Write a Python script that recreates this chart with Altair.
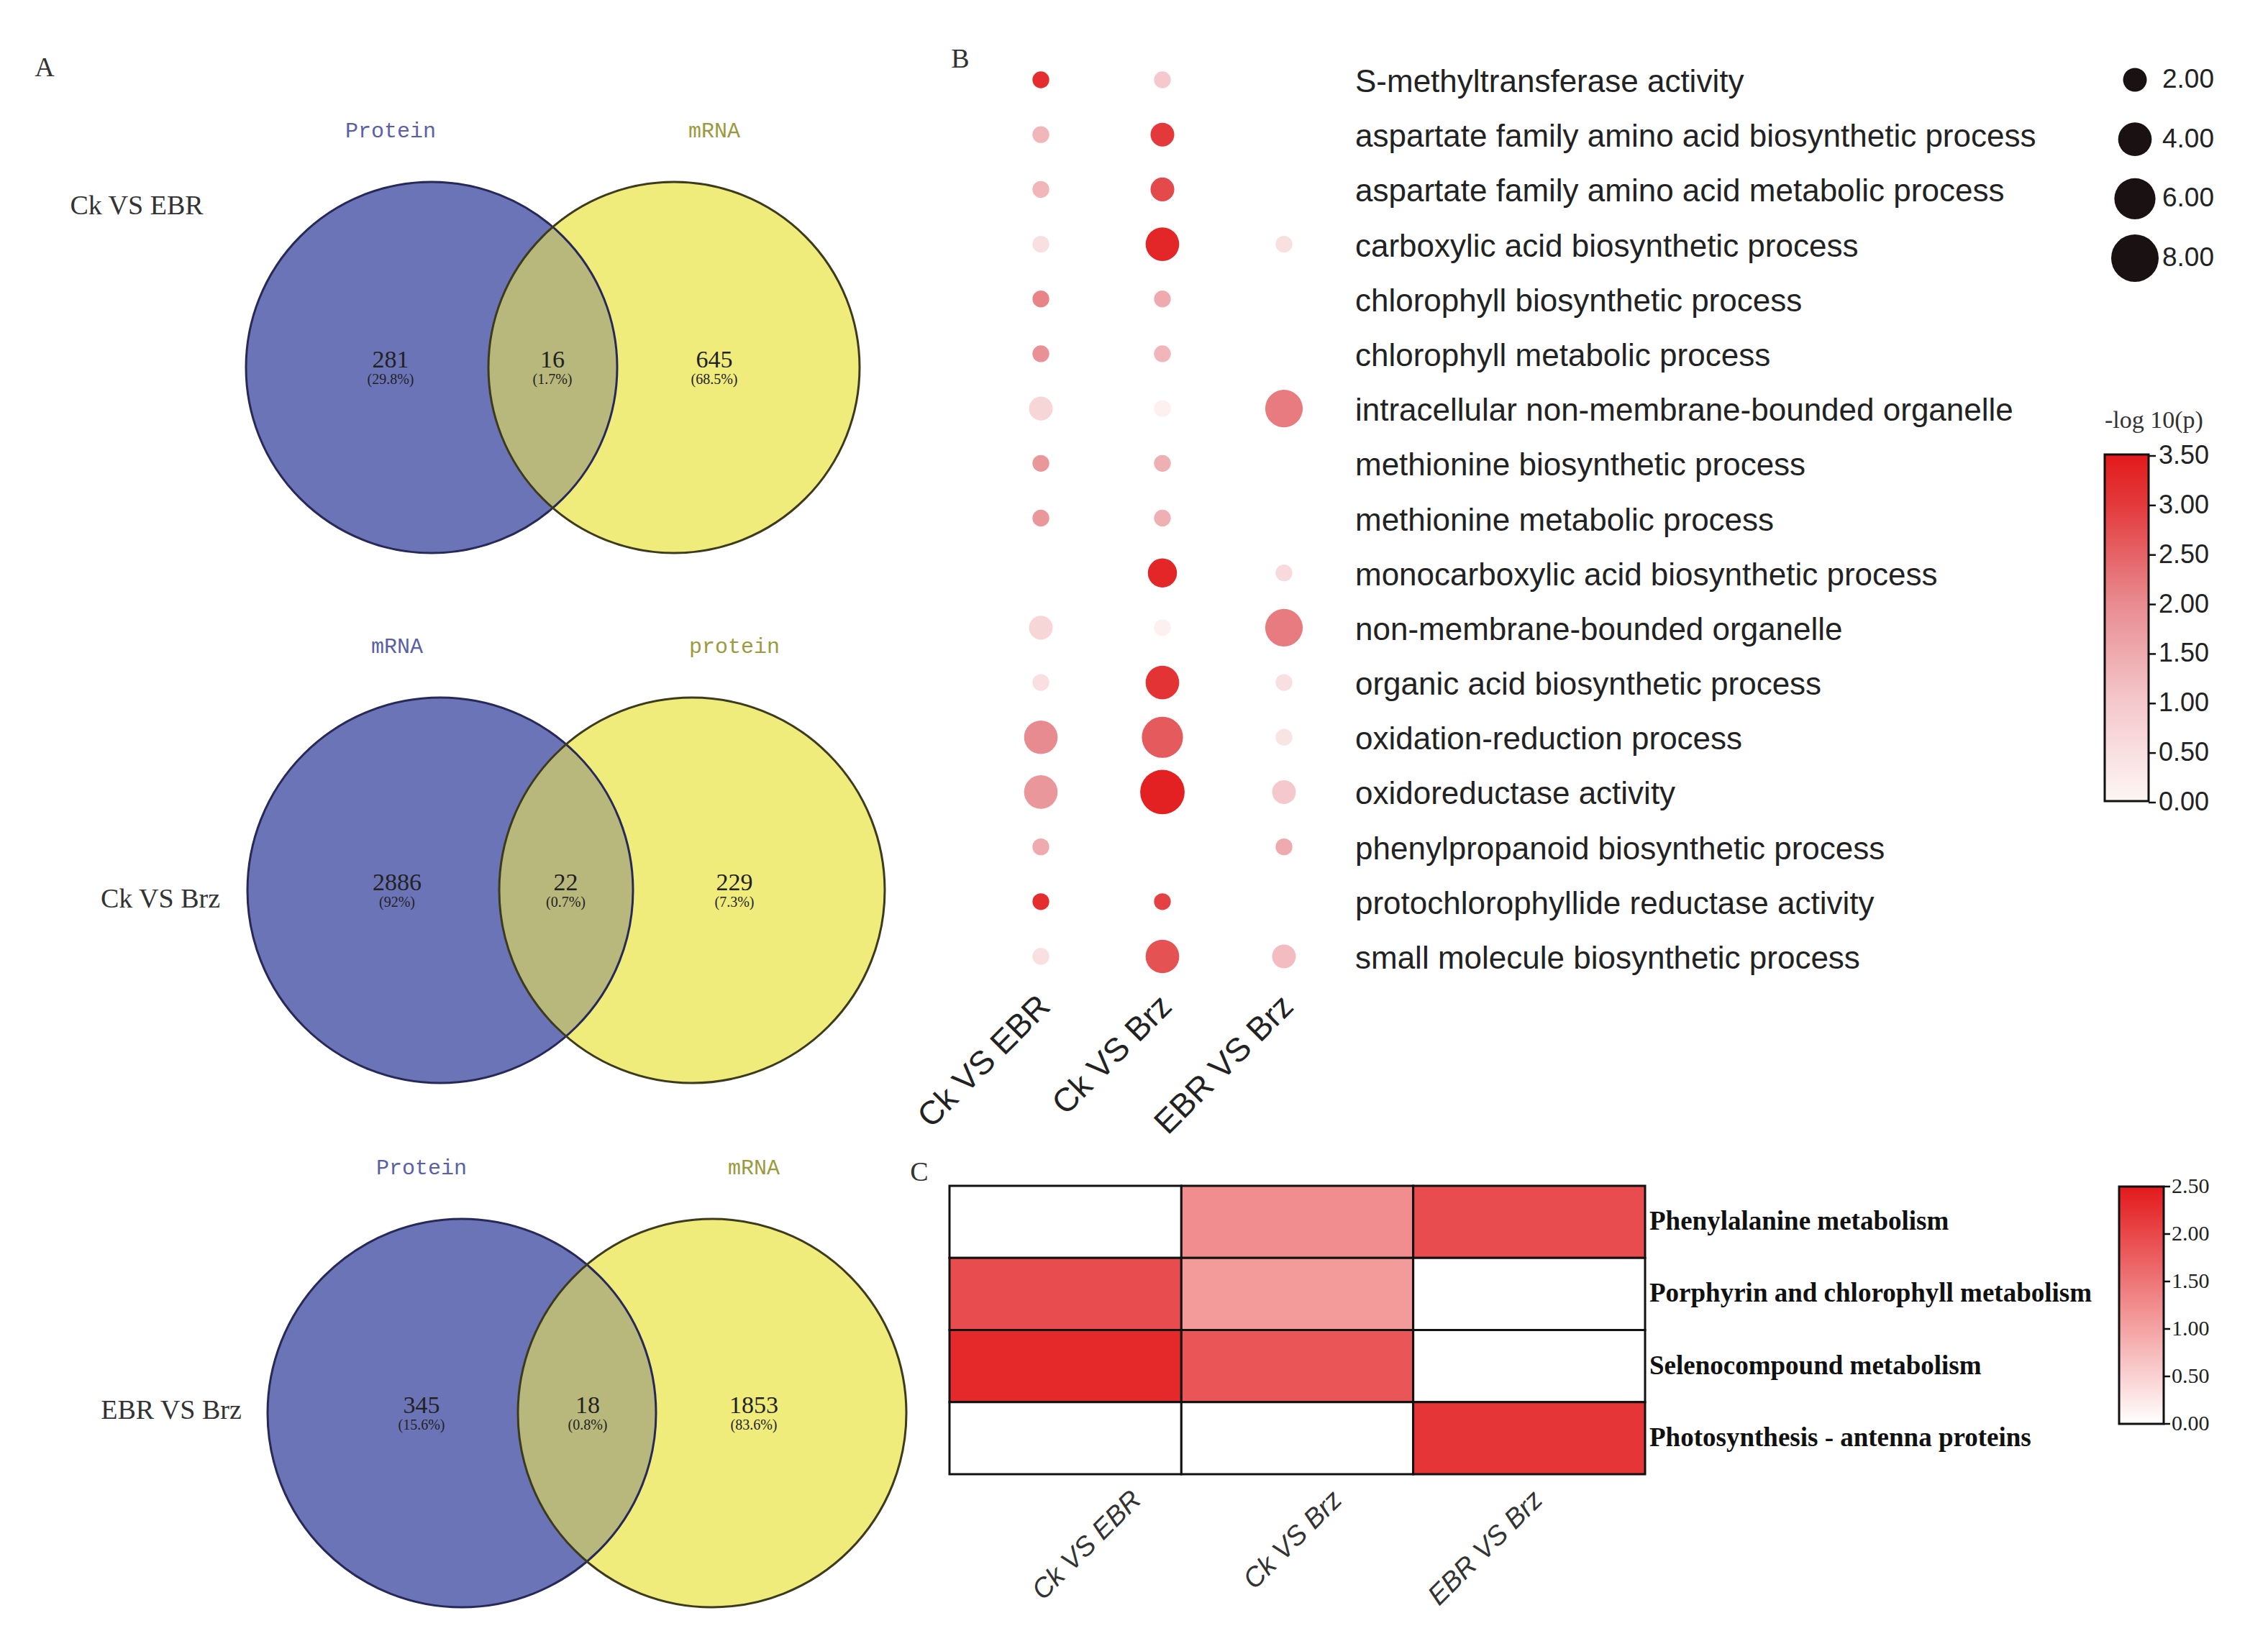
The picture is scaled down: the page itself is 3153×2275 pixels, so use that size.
import altair as alt
import pandas as pd

# ---------------- Panel A : Venn data ----------------
venn_comparisons = ["Ck VS EBR", "Ck VS Brz", "EBR VS Brz"]
venn_left_set = ["Protein", "mRNA", "Protein"]
venn_right_set = ["mRNA", "protein", "mRNA"]
venn_left_only = [281, 2886, 345]
venn_overlap = [16, 22, 18]
venn_right_only = [645, 229, 1853]
venn_left_pct = ["(29.8%)", "(92%)", "(15.6%)"]
venn_overlap_pct = ["(1.7%)", "(0.7%)", "(0.8%)"]
venn_right_pct = ["(68.5%)", "(7.3%)", "(83.6%)"]

# ---------------- Panel B : GO bubble data ----------------
go_terms = [
    "S-methyltransferase activity",
    "aspartate family amino acid biosynthetic process",
    "aspartate family amino acid metabolic process",
    "carboxylic acid biosynthetic process",
    "chlorophyll biosynthetic process",
    "chlorophyll metabolic process",
    "intracellular non-membrane-bounded organelle",
    "methionine biosynthetic process",
    "methionine metabolic process",
    "monocarboxylic acid biosynthetic process",
    "non-membrane-bounded organelle",
    "organic acid biosynthetic process",
    "oxidation-reduction process",
    "oxidoreductase activity",
    "phenylpropanoid biosynthetic process",
    "protochlorophyllide reductase activity",
    "small molecule biosynthetic process",
]
go_comparisons = ["Ck VS EBR", "Ck VS Brz", "EBR VS Brz"]
logp_ck_ebr = [3.2, 1.3, 1.3, 0.5, 2.1, 1.9, 0.7, 1.8, 1.8, None, 0.7, 0.5, 2.0, 1.8, 1.5, 3.2, 0.5]
count_ck_ebr = [1, 1, 1, 1, 1, 1, 2, 1, 1, None, 2, 1, 4, 4, 1, 1, 1]
logp_ck_brz = [1.0, 3.0, 2.8, 3.3, 1.5, 1.3, 0.1, 1.4, 1.4, 3.3, 0.1, 3.1, 2.6, 3.4, None, 2.9, 2.7]
count_ck_brz = [1, 2, 2, 4, 1, 1, 1, 1, 1, 3, 1, 4, 6, 7, None, 1, 4]
logp_ebr_brz = [None, None, None, 0.5, None, None, 2.2, None, None, 0.6, 2.2, 0.5, 0.4, 1.0, 1.5, None, 1.2]
count_ebr_brz = [None, None, None, 1, None, None, 5, None, None, 1, 5, 1, 1, 2, 1, None, 2]
size_legend_values = [2, 4, 6, 8]
logp_legend_values = [0, 0.5, 1, 1.5, 2, 2.5, 3, 3.5]

# ---------------- Panel C : KEGG heatmap data ----------------
kegg_pathways = [
    "Phenylalanine metabolism",
    "Porphyrin and chlorophyll metabolism",
    "Selenocompound metabolism",
    "Photosynthesis - antenna proteins",
]
kegg_ck_ebr = [0.0, 1.95, 2.35, 0.0]
kegg_ck_brz = [1.25, 1.1, 1.85, 0.0]
kegg_ebr_brz = [1.95, 0.0, 0.0, 2.2]
kegg_legend_values = [0, 0.5, 1, 1.5, 2, 2.5]

# ---------------- layout (chart pixels) ----------------
W, H = 3130, 2255
VENN_Y = [503, 1957]
venn_circle_x = [(592, 929), (604, 954), (634, 982)]
venn_diam = [516, 536, 540]
venn_text_x = [(535, 985), (544, 1013), (578, 1040)]
venn_setlabel_dy = [-329, -339, -341]
venn_rowlabel = [(182, -224), (215, 13), (230, -3)]

B_X = [1439, 1777]
B_Y = [103, 1322]
B_LEG_X, B_LEG_Y, B_LEG_LEN, B_LEG_W = 2918, 560, 482, 61
B_BAR_TOP = B_LEG_Y + 66

C_X = [1312, 2279]
C_Y = [1641, 2042]
C_LEG_X, C_LEG_Y, C_LEG_LEN, C_LEG_W = 2938, 1642, 330, 62
C_XLABEL_X = [1573, 2131]
C_XLABEL_Y = 2072


def pt(domain, rng, padding=0.0):
    return alt.Scale(type="point", domain=domain, range=rng, padding=padding)


layers = []

# ======== Panel A ========
circ_df = pd.DataFrame({
    "comparison": venn_comparisons * 2,
    "side": ["left"] * 3 + ["right"] * 3,
    "set": venn_left_set + venn_right_set,
})
region_df = pd.DataFrame({
    "comparison": venn_comparisons * 3,
    "region": ["left"] * 3 + ["both"] * 3 + ["right"] * 3,
    "count": venn_left_only + venn_overlap + venn_right_only,
    "pct": venn_left_pct + venn_overlap_pct + venn_right_pct,
})
comp_df = pd.DataFrame({"comparison": venn_comparisons})
VY = pt(venn_comparisons, VENN_Y)

# colours: blue-only, yellow-only, overlap are reproduced by an under-layer,
# an opaque yellow circle and a half-transparent grey-blue circle
UNDER_BLUE, YELLOW, OVER_BLUE = "#5864f4", "#f0ec7c", "#80847c"

for i, comp in enumerate(venn_comparisons):
    cx = pt(["left", "right"], list(venn_circle_x[i]))
    tx = pt(["left", "both", "right"], list(venn_text_x[i]))
    size = venn_diam[i] ** 2
    base_c = alt.Chart(circ_df).transform_filter(alt.datum.comparison == comp)

    def circ(side, fill, op):
        return base_c.transform_filter(alt.datum.side == side).mark_circle(
            size=size, color=fill, opacity=op
        ).encode(x=alt.X("side:N", scale=cx, axis=None),
                 y=alt.Y("comparison:N", scale=VY, axis=None))

    def outline(side, stroke):
        return base_c.transform_filter(alt.datum.side == side).mark_point(
            shape="circle", filled=False, size=size, color=stroke, strokeWidth=3, opacity=1
        ).encode(x=alt.X("side:N", scale=cx, axis=None),
                 y=alt.Y("comparison:N", scale=VY, axis=None))

    layers += [circ("left", UNDER_BLUE, 1), circ("right", YELLOW, 1),
               circ("left", OVER_BLUE, 0.5),
               outline("left", "#272a58"), outline("right", "#3c3b1e")]

    base_r = alt.Chart(region_df).transform_filter(alt.datum.comparison == comp)
    layers.append(base_r.mark_text(font="Liberation Serif", fontSize=34, dy=-10, color="#222").encode(
        x=alt.X("region:N", scale=tx, axis=None),
        y=alt.Y("comparison:N", scale=VY, axis=None),
        text=alt.Text("count:Q", format="d")))
    layers.append(base_r.mark_text(font="Liberation Serif", fontSize=20, dy=17, color="#222").encode(
        x=alt.X("region:N", scale=tx, axis=None),
        y=alt.Y("comparison:N", scale=VY, axis=None),
        text="pct:N"))
    layers.append(base_c.mark_text(font="Liberation Mono", fontSize=30, dy=venn_setlabel_dy[i]).encode(
        x=alt.X("side:N", scale=tx, axis=None),
        y=alt.Y("comparison:N", scale=VY, axis=None),
        text="set:N",
        color=alt.Color("side:N", scale=alt.Scale(domain=["left", "right"],
                                                  range=["#5a5fa6", "#9c9a3e"]), legend=None)))
    lx, ldy = venn_rowlabel[i]
    layers.append(alt.Chart(comp_df).transform_filter(alt.datum.comparison == comp).mark_text(
        font="Liberation Serif", fontSize=38, dy=ldy, color="#333").encode(
        x=alt.value(lx),
        y=alt.Y("comparison:N", scale=VY, axis=None),
        text="comparison:N"))

# ======== Panel B ========
rows = []
for comp, lps, cnts in zip(go_comparisons, [logp_ck_ebr, logp_ck_brz, logp_ebr_brz],
                           [count_ck_ebr, count_ck_brz, count_ebr_brz]):
    for term, lp, c in zip(go_terms, lps, cnts):
        if lp is not None:
            rows.append({"comparison": comp, "term": term, "logp": lp, "count": c})
b_df = pd.DataFrame(rows)

BX = pt(go_comparisons, B_X)
BY = pt(go_terms, B_Y)
size_scale = alt.Scale(domain=[0, 8], range=[0, 4360])
b_color = alt.Scale(domain=[0, 1, 2, 3, 3.5],
                    range=["#fdf6f4", "#f4c8cc", "#e88b90", "#e3393b", "#e31a1c"],
                    interpolate="rgb")

layers.append(
    alt.Chart(b_df).mark_circle(opacity=1).encode(
        x=alt.X("comparison:N", scale=BX, axis=None),
        y=alt.Y("term:N", scale=BY, axis=None),
        size=alt.Size("count:Q", scale=size_scale, legend=None),
        color=alt.Color("logp:Q", scale=b_color, legend=alt.Legend(
            orient="none", legendX=B_LEG_X, legendY=B_LEG_Y, direction="vertical",
            title="-log 10(p)", titleFont="Liberation Serif", titleFontSize=34,
            titleFontWeight="normal", titleColor="#333", titlePadding=30,
            gradientLength=B_LEG_LEN, gradientThickness=B_LEG_W,
            gradientStrokeColor="#111", gradientStrokeWidth=3,
            values=logp_legend_values, labelOpacity=0,
        )),
    )
)
# colour-bar labels and ticks for panel B
b_lab_df = pd.DataFrame({"v": logp_legend_values})
b_lab_y = alt.Scale(domain=[0, 3.5], range=[B_BAR_TOP + B_LEG_LEN, B_BAR_TOP])
layers.append(alt.Chart(b_lab_df).mark_rule(color="#111", strokeWidth=2.5).encode(
    x=alt.value(B_LEG_X + B_LEG_W), x2=alt.value(B_LEG_X + B_LEG_W + 10),
    y=alt.Y("v:Q", scale=b_lab_y, axis=None)))
layers.append(alt.Chart(b_lab_df).mark_text(align="left", font="Liberation Sans", fontSize=36,
                                            color="#222").encode(
    x=alt.value(B_LEG_X + B_LEG_W + 14),
    y=alt.Y("v:Q", scale=b_lab_y, axis=None),
    text=alt.Text("v:Q", format=".2f")))

layers.append(
    alt.Chart(pd.DataFrame({"term": go_terms})).mark_text(
        align="left", font="Liberation Sans", fontSize=44, dy=4, color="#222"
    ).encode(
        x=alt.value(1876),
        y=alt.Y("term:N", scale=BY, axis=None),
        text="term:N",
    )
)
layers.append(
    alt.Chart(pd.DataFrame({"comparison": go_comparisons})).mark_text(
        align="right", baseline="middle", angle=315, font="Liberation Sans", fontSize=46,
        dx=8, color="#222"
    ).encode(
        x=alt.X("comparison:N", scale=BX, axis=None),
        y=alt.value(1390),
        text="comparison:N",
    )
)
size_leg_df = pd.DataFrame({"v": size_legend_values,
                            "lab": [f"{v:.2f}" for v in size_legend_values]})
SLY = pt([f"{v:.2f}" for v in size_legend_values], [103, 351])
layers.append(
    alt.Chart(size_leg_df).mark_circle(opacity=1, color="#1a1212").encode(
        x=alt.value(2960),
        y=alt.Y("lab:N", scale=SLY, axis=None),
        size=alt.Size("v:Q", scale=size_scale, legend=None),
    )
)
layers.append(
    alt.Chart(size_leg_df).mark_text(align="left", font="Liberation Sans", fontSize=37, color="#222").encode(
        x=alt.value(2998),
        y=alt.Y("lab:N", scale=SLY, axis=None),
        text="lab:N",
    )
)

# ======== Panel C ========
c_rows = []
for comp, vals in zip(go_comparisons, [kegg_ck_ebr, kegg_ck_brz, kegg_ebr_brz]):
    for pw, v in zip(kegg_pathways, vals):
        c_rows.append({"comparison": comp, "pathway": pw, "value": v})
c_df = pd.DataFrame(c_rows)

c_color = alt.Scale(domain=[0, 2.5], range=["#ffffff", "#e31a1c"], interpolate="rgb")

layers.append(
    alt.Chart(c_df).mark_rect(stroke="#111", strokeWidth=3).encode(
        x=alt.X("comparison:N", scale=alt.Scale(type="band", domain=go_comparisons, range=C_X,
                                                paddingInner=0, paddingOuter=0), axis=None),
        y=alt.Y("pathway:N", scale=alt.Scale(type="band", domain=kegg_pathways, range=C_Y,
                                             paddingInner=0, paddingOuter=0), axis=None),
        color=alt.Color("value:Q", scale=c_color, legend=alt.Legend(
            orient="none", legendX=C_LEG_X, legendY=C_LEG_Y, direction="vertical", title=None,
            gradientLength=C_LEG_LEN, gradientThickness=C_LEG_W,
            gradientStrokeColor="#111", gradientStrokeWidth=3,
            values=kegg_legend_values, labelOpacity=0,
        )),
    )
)
c_lab_df = pd.DataFrame({"v": kegg_legend_values})
c_lab_y = alt.Scale(domain=[0, 2.5], range=[C_LEG_Y + C_LEG_LEN, C_LEG_Y])
layers.append(alt.Chart(c_lab_df).mark_rule(color="#111", strokeWidth=2.5).encode(
    x=alt.value(C_LEG_X + C_LEG_W), x2=alt.value(C_LEG_X + C_LEG_W + 9),
    y=alt.Y("v:Q", scale=c_lab_y, axis=None)))
layers.append(alt.Chart(c_lab_df).mark_text(align="left", font="Liberation Serif", fontSize=30,
                                            color="#222").encode(
    x=alt.value(C_LEG_X + C_LEG_W + 11),
    y=alt.Y("v:Q", scale=c_lab_y, axis=None),
    text=alt.Text("v:Q", format=".2f")))

layers.append(
    alt.Chart(pd.DataFrame({"pathway": kegg_pathways})).mark_text(
        align="left", font="Liberation Serif", fontWeight="bold", fontSize=37, color="#111"
    ).encode(
        x=alt.value(2285),
        y=alt.Y("pathway:N", scale=pt(kegg_pathways, C_Y, 0.5), axis=None),
        text="pathway:N",
    )
)
layers.append(
    alt.Chart(pd.DataFrame({"comparison": go_comparisons})).mark_text(
        align="right", baseline="middle", angle=315, font="Liberation Sans", fontStyle="italic",
        fontSize=38, color="#333"
    ).encode(
        x=alt.X("comparison:N", scale=pt(go_comparisons, C_XLABEL_X), axis=None),
        y=alt.value(C_XLABEL_Y),
        text="comparison:N",
    )
)

# ======== panel letters ========
for letter, px, py in [("A", 54, 87), ("B", 1327, 75), ("C", 1270, 1623)]:
    layers.append(
        alt.Chart(pd.DataFrame({"t": [letter]})).mark_text(
            font="Liberation Serif", fontSize=38, color="#333"
        ).encode(x=alt.value(px), y=alt.value(py), text="t:N")
    )

chart = alt.layer(*layers).resolve_scale(
    x="independent", y="independent", color="independent", size="independent"
).properties(width=W, height=H, padding=0).configure_view(stroke=None)

chart.save("out.html", embed_options={"renderer": "svg", "actions": False})
